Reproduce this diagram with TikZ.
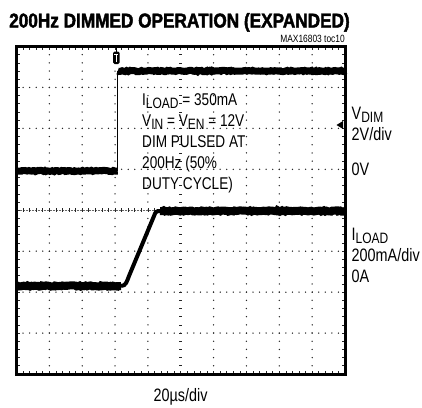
\documentclass[tikz,border=0pt]{standalone}
\usepackage{fontspec}
\setmainfont{Liberation Sans}
\newfontfamily\narrow[FakeStretch=0.8]{Liberation Sans}
\newfontfamily\titlefont[FakeStretch=0.86,FakeBold=2]{Liberation Sans Bold}
\usetikzlibrary{decorations.pathmorphing}
\newcommand\sbs[1]{\raisebox{-3pt}{\fontsize{15}{15}\selectfont #1}}
\begin{document}
\begin{tikzpicture}[x=1pt,y=-1pt,
  lbl/.style={font=\narrow\fontsize{17}{17}\selectfont, anchor=base west, inner sep=0pt},
  rlbl/.style={font=\narrow\fontsize{18}{18}\selectfont, anchor=base west, inner sep=0pt},
  gdot/.style={fill=black!85},
  tick/.style={draw=black!85, line width=0.7pt},
  trace/.style={line width=7pt, decorate, decoration={random steps, segment length=1.5pt, amplitude=0.6pt}},
  edge/.style={line width=0.9pt},
  framebox/.style={draw, line width=3pt}]
\useasboundingbox (0,0) rectangle (422,407);
\def\xa{16.5}\def\xb{345}\def\ya{46.5}\def\yb{374}
\def\dx{32.85}\def\dy{40.9375}
% dotted grid
\foreach \i in {1,2,3,4,6,7,8,9}{
  \foreach \k in {1,...,39}{
    \fill[gdot] ({\xa+\i*\dx},{\ya+\k*\dy/5}) circle[radius=0.75pt];
  }
}
\foreach \j in {1,2,3,5,6,7}{
  \foreach \k in {1,...,49}{
    \fill[gdot] ({\xa+\k*\dx/5},{\ya+\j*\dy}) circle[radius=0.75pt];
  }
}
% center crosshair
\draw[black!60, line width=0.5pt, dash pattern=on 2pt off 1pt] (\xa,{\ya+4*\dy}) -- (\xb,{\ya+4*\dy});
\foreach \k in {1,...,49}{
  \draw[tick] ({\xa+\k*\dx/5},{\ya+4*\dy-2.2}) -- ({\xa+\k*\dx/5},{\ya+4*\dy+2.2});
  \draw[tick] ({\xa+\k*\dx/5},\ya) -- ({\xa+\k*\dx/5},{\ya+3});
  \draw[tick] ({\xa+\k*\dx/5},\yb) -- ({\xa+\k*\dx/5},{\yb-3});
}
\foreach \k in {1,...,39}{
  \draw[tick] ({\xa+5*\dx-1.6},{\ya+\k*\dy/5}) -- ({\xa+5*\dx+1.6},{\ya+\k*\dy/5});
  \draw[tick] (\xa,{\ya+\k*\dy/5}) -- ({\xa+3},{\ya+\k*\dy/5});
  \draw[tick] (\xb,{\ya+\k*\dy/5}) -- ({\xb-3},{\ya+\k*\dy/5});
}
% V_DIM trace
\coordinate (v0) at (\xa,171);
\coordinate (v1) at (117.7,171);
\coordinate (v2) at (117.7,71);
\coordinate (v3) at (\xb,71);
\draw[trace] (v0) -- (v1);
\draw[edge] (v1) -- (v2);
\draw[trace] (v2) -- (v3);
% I_LOAD trace
\coordinate (i0) at (\xa,286);
\coordinate (i1) at (121,286);
\coordinate (i2) at (160,211);
\coordinate (i3) at (\xb,211);
\draw[trace, line width=8pt] (i0) -- (i1);
\draw[line width=4pt] (i1) .. controls (126,286) and (127,281) .. (129,276) -- (154,216) .. controls (155.5,212) and (156,211) .. (i2);
\draw[trace, line width=8pt] (i2) -- (i3);
% trigger marker
\draw[line width=1pt] (116,\ya) -- (116,52);
\fill[rounded corners=1.5pt] (113,51.5) rectangle (119.5,64);
\draw[white, line width=0.8pt] (114.4,54.5) -- (118.1,54.5) (116.25,54.5) -- (116.25,61.5);
% right marker
\fill (336.5,125) -- (343,121) -- (343,129) -- cycle;
% frame
\draw[framebox] (\xa,\ya) rectangle (\xb,\yb);
% texts
\node[anchor=base west, inner sep=0pt, font=\titlefont\fontsize{20}{20}\selectfont] (title) at (9,27.5) {200Hz DIMMED OPERATION (EXPANDED)};
\node[anchor=base east, inner sep=0pt, font=\narrow\fontsize{10.5}{10.5}\selectfont] (toc) at (345,42) {MAX16803 toc10};
\node[lbl] (t1) at (142,105) {I\sbs{LOAD} = 350mA};
\node[lbl] (t2) at (142,126) {V\sbs{IN} = V\sbs{EN} = 12V};
\node[lbl] (t3) at (142,147) {DIM PULSED AT};
\node[lbl] (t4) at (142,168) {200Hz (50\%};
\node[lbl] (t5) at (142,189) {DUTY CYCLE)};
\node[rlbl] (r1) at (351.5,119) {V\sbs{DIM}};
\node[rlbl] (r2) at (351.5,140) {2V/div};
\node[rlbl] (r3) at (351.5,175) {0V};
\node[rlbl] (r4) at (351.5,240) {I\sbs{LOAD}};
\node[rlbl] (r5) at (351.5,261) {200mA/div};
\node[rlbl] (r6) at (351.5,282) {0A};
\node[rlbl, anchor=base] (xl) at (180.5,401.5) {20µs/div};
\end{tikzpicture}
\end{document}
